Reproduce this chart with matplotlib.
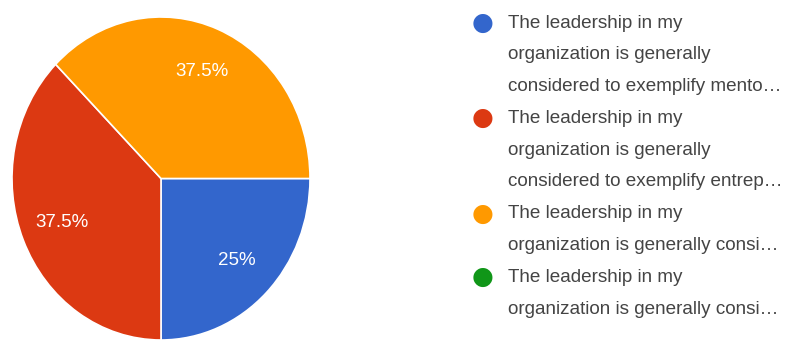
import matplotlib
matplotlib.use('Agg')
import matplotlib.pyplot as plt

plt.rcParams['font.family'] = ['Liberation Sans', 'DejaVu Sans']

# 数据
categories = [
    ['The leadership in my', 'organization is generally', 'considered to exemplify mento…'],
    ['The leadership in my', 'organization is generally', 'considered to exemplify entrep…'],
    ['The leadership in my', 'organization is generally consi…'],
    ['The leadership in my', 'organization is generally consi…'],
]
shares = [25, 37.5, 37.5, 0]
colors = ['#3366cc', '#dc3912', '#ff9900', '#109618']

W, H = 803, 343
fig = plt.figure(figsize=(W / 100, H / 100), dpi=100)

# 饼图区域（像素框换算成比例），原图略微竖向拉伸
px_left, px_top, px_w, px_h = 12, 17, 298, 323
ax = fig.add_axes([px_left / W, (H - px_top - px_h) / H, px_w / W, px_h / H])

vals = [v for v in shares if v > 0]
cols = [c for v, c in zip(shares, colors) if v > 0]
wedges, texts, autotexts = ax.pie(
    vals, colors=cols, startangle=0, counterclock=False, radius=1,
    autopct=lambda p: f'{p:g}%', pctdistance=0.72,
    wedgeprops=dict(edgecolor='white', linewidth=1.2),
    textprops=dict(color='white', fontsize=13.5))
ax.set_xlim(-1, 1)
ax.set_ylim(-1, 1)
ax.set_aspect('auto')
ax.axis('off')

# 图例：圆点 + 多行文字
y = 23
line_h = 31.8
for lines, c in zip(categories, colors):
    fig.text(483 / W, 1 - y / H, '●', color=c, fontsize=18,
             ha='center', va='center', family=['DejaVu Sans'])
    for ln in lines:
        fig.text(508 / W, 1 - y / H, ln, color='#444444', fontsize=13.6,
                 ha='left', va='center')
        y += line_h

plt.savefig('out.png', dpi=100)
